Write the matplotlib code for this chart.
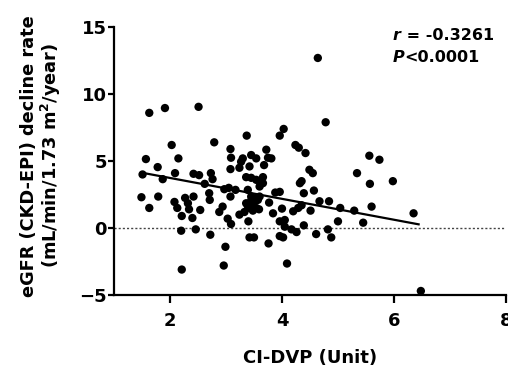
import numpy as np
import matplotlib
matplotlib.use("Agg")
import matplotlib.pyplot as plt

# CI-DVP (unit) vs eGFR decline rate
ci_dvp = [4.64, 2.51, 1.91, 1.63, 4.78, 4.03, 3.96, 3.37, 2.79, 2.03,
          4.24, 4.30, 3.08, 3.72, 4.42, 5.56, 5.74, 1.57, 2.15, 3.09,
          3.30, 3.45, 3.54, 3.75, 3.81, 3.27, 3.24, 3.42, 3.68, 3.08,
          4.49, 4.55, 5.34, 1.78, 1.51, 1.87, 2.09, 2.42, 2.52, 2.62,
          2.73, 2.76, 1.49, 1.79, 1.63, 2.08, 2.13, 2.21, 2.27, 2.32,
          2.34, 2.42, 2.54, 2.40, 2.20, 2.46, 2.72, 2.70, 2.71, 2.88,
          2.94, 2.99, 2.96, 2.21, 3.03, 3.09, 2.97, 3.05, 3.17, 3.08,
          3.24, 3.36, 3.45, 3.54, 3.66, 3.39, 3.45, 3.36, 3.48, 3.54,
          3.42, 3.33, 3.40, 3.42, 3.50, 3.60, 3.66, 3.60, 3.59, 3.77,
          3.76, 3.84, 3.88, 3.96, 4.00, 4.05, 3.96, 4.02, 4.09, 4.17,
          4.26, 4.20, 4.29, 4.32, 4.39, 4.39, 4.35, 5.57, 5.98, 4.57,
          4.35, 4.67, 4.84, 4.51, 5.04, 5.29, 5.60, 6.35, 5.00, 5.45,
          4.61, 4.82, 4.88, 6.48, 3.51, 3.45, 3.39, 3.57, 3.48, 3.96,
          4.05]
egfr_decline = [12.7, 9.05, 8.96, 8.6, 7.9, 7.4, 6.9, 6.9, 6.4, 6.2,
                6.2, 6.0, 5.9, 5.85, 5.6, 5.4, 5.1, 5.15, 5.2, 5.25,
                5.2, 5.45, 5.2, 5.25, 5.2, 4.95, 4.5, 4.6, 4.7, 4.4,
                4.35, 4.1, 4.1, 4.55, 4.0, 3.65, 4.1, 4.05, 3.95, 3.3,
                4.1, 3.65, 2.3, 2.35, 1.5, 1.95, 1.5, 0.9, 2.25, 1.85,
                1.4, 2.35, 1.35, 0.75, -0.2, -0.1, -0.5, 2.6, 2.1, 1.2,
                1.6, -1.4, -2.8, -3.1, 0.7, 0.3, 2.9, 3.0, 2.85, 2.35,
                1.0, 3.8, 3.75, 3.6, 3.8, 2.85, 2.35, 1.85, 1.85, 1.5,
                1.5, 1.2, 0.5, -0.7, -0.7, 3.1, 3.35, 2.35, 1.4, 1.9,
                -1.15, 1.1, 2.65, 2.7, 1.45, 0.6, -0.6, -0.7, -2.65, -0.1,
                -0.3, 1.25, 1.5, 3.35, 2.6, 0.2, 3.5, 3.3, 3.5, 2.8,
                1.7, 2.0, 2.0, 1.3, 1.5, 1.3, 1.6, 1.1, 0.5, 0.4,
                -0.45, -0.1, -0.7, -4.7, 2.2, 2.05, 1.65, 2.1, 1.3, 0.5,
                0.1]
# regression line as drawn in the reference (slope, intercept, x range)
fit_slope = -0.78
fit_intercept = 5.3
fit_x = [1.51, 6.44]
r_text = "-0.3261"
p_text = "<0.0001"

x = np.array(ci_dvp)
y = np.array(egfr_decline)
xl = np.array(fit_x)

plt.rcParams['font.family'] = ['DejaVu Sans']
fig = plt.figure(figsize=(5.08, 3.72), dpi=100)
ax = fig.add_axes([0.2244, 0.207, 0.7716, 0.72])

ax.axhline(0, color="#444444", lw=1, ls=(0, (1.5, 1.5)), zorder=1)
ax.scatter(x, y, s=36, color="black", edgecolors="none", zorder=3)
ax.plot(xl, fit_slope * xl + fit_intercept, color="black", lw=1.6, zorder=2)

ax.set_xlim(1, 8)
ax.set_ylim(-5, 15)
ax.set_xticks([2, 4, 6, 8])
ax.set_yticks([-5, 0, 5, 10, 15])
for s in ["top", "right"]:
    ax.spines[s].set_visible(False)
for s in ["left", "bottom"]:
    ax.spines[s].set_linewidth(1.6)
ax.tick_params(axis="x", width=1.6, length=6, labelsize=13, pad=6)
ax.tick_params(axis="y", width=1.6, length=4, labelsize=13, pad=1)
for lab in ax.get_xticklabels() + ax.get_yticklabels():
    lab.set_fontweight("bold")

ax.set_xlabel("CI-DVP (Unit)", fontsize=13, fontweight="bold")
ax.set_ylabel("eGFR (CKD-EPI) decline rate\n(mL/min/1.73 m$^\\mathbf{2}$/year)",
              fontsize=12.8, fontweight="bold", linespacing=1.05)
ax.xaxis.set_label_coords(0.5, -0.2)
ax.yaxis.set_label_coords(-0.13, 0.52)

t1 = ax.text(5.98, 14.4, "r", fontsize=11.5, fontweight="bold", style="italic",
             va="center")
ax.annotate(" = " + r_text, xy=(1, 0), xycoords=t1, va="bottom",
            fontsize=11.5, fontweight="bold")
t2 = ax.text(5.98, 12.75, "P", fontsize=11.5, fontweight="bold", style="italic",
             va="center")
ax.annotate(p_text, xy=(1, 0), xycoords=t2, va="bottom",
            fontsize=11.5, fontweight="bold")

fig.savefig("out.png", dpi=100)
